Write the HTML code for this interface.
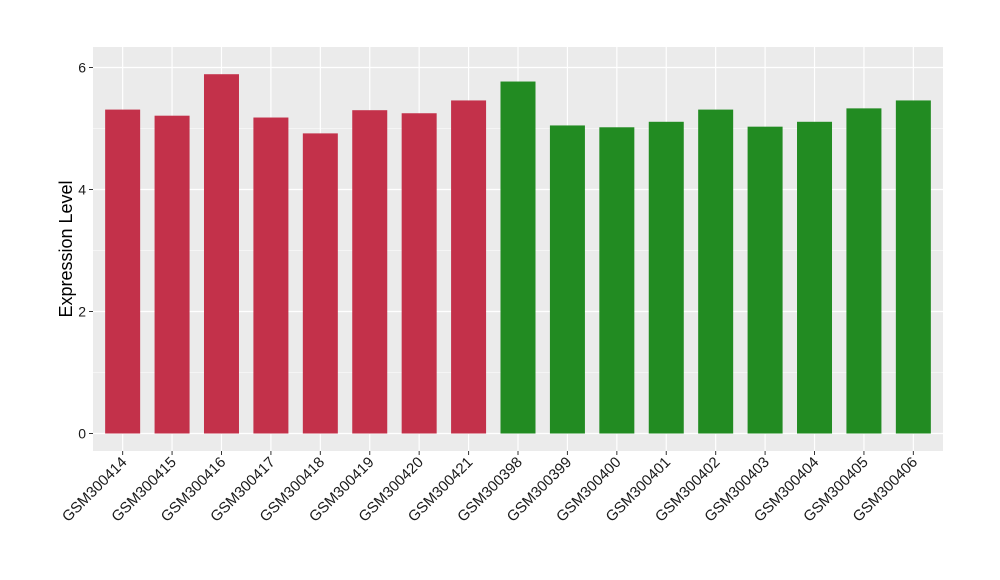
<!DOCTYPE html>
<html><head><meta charset="utf-8"><style>body{margin:0;background:#fff}svg{display:block;font-family:"Liberation Sans",sans-serif}</style></head>
<body>
<svg id="chart" width="1000" height="580" viewBox="0 0 1000 580"></svg>
<script>
const categories=["GSM300414","GSM300415","GSM300416","GSM300417","GSM300418","GSM300419","GSM300420","GSM300421","GSM300398","GSM300399","GSM300400","GSM300401","GSM300402","GSM300403","GSM300404","GSM300405","GSM300406"];
const values=[5.31,5.21,5.89,5.18,4.92,5.30,5.25,5.46,5.77,5.05,5.02,5.11,5.31,5.03,5.11,5.33,5.46];
const groups=["a","a","a","a","a","a","a","a","b","b","b","b","b","b","b","b","b"];
const yTicks=[0,2,4,6];
const yMinor=[1,3,5];
const NS="http://www.w3.org/2000/svg";
const svg=document.getElementById('chart');
const L=93,R=943,T=47,B=451;
const step=(R-L)/(categories.length+0.2);
const xs=i=>L+step*(0.6+i);
const y0=433.5,ppu=61;
const ys=v=>y0-v*ppu;
function mk(t,a,p){const e=document.createElementNS(NS,t);for(const k in a)e.setAttribute(k,a[k]);(p||svg).appendChild(e);return e;}
const panel=mk('rect',{x:L,y:T,width:R-L,height:B-T,fill:'#EBEBEB'});


yMinor.forEach(v=>{const l=mk('line',{x1:L,x2:R,y1:ys(v),y2:ys(v),stroke:'#fff','stroke-width':0.6});

});
yTicks.forEach(v=>{const l=mk('line',{x1:L,x2:R,y1:ys(v),y2:ys(v),stroke:'#fff','stroke-width':1.2});


const tk=mk('line',{x1:L-4,x2:L,y1:ys(v),y2:ys(v),stroke:'#333','stroke-width':1});


const t=mk('text',{x:L-7,y:ys(v)+5,'text-anchor':'end','font-size':14,fill:'#1a1a1a'});t.textContent=v;

});
categories.forEach((c,i)=>{const x=xs(i);
const g=mk('line',{x1:x,x2:x,y1:T,y2:B,stroke:'#fff','stroke-width':1.2});

});
categories.forEach((c,i)=>{const x=xs(i),w=35;
const b=mk('rect',{x:x-w/2,y:ys(values[i]),width:w,height:values[i]*ppu,fill:groups[i]==='a'?'#C3314A':'#228B22'});


const tk=mk('line',{x1:x,x2:x,y1:B,y2:B+4,stroke:'#333','stroke-width':1});


const t=mk('text',{x:x+5,y:B+12,'text-anchor':'end','font-size':15,fill:'#1a1a1a',transform:`rotate(-45 ${x+5} ${B+12})`});t.textContent=c;

});
const yt=mk('text',{x:72,y:(T+B)/2,'text-anchor':'middle','font-size':18,fill:'#000',transform:`rotate(-90 72 ${(T+B)/2})`});yt.textContent='Expression Level';


</script>
</body></html>
